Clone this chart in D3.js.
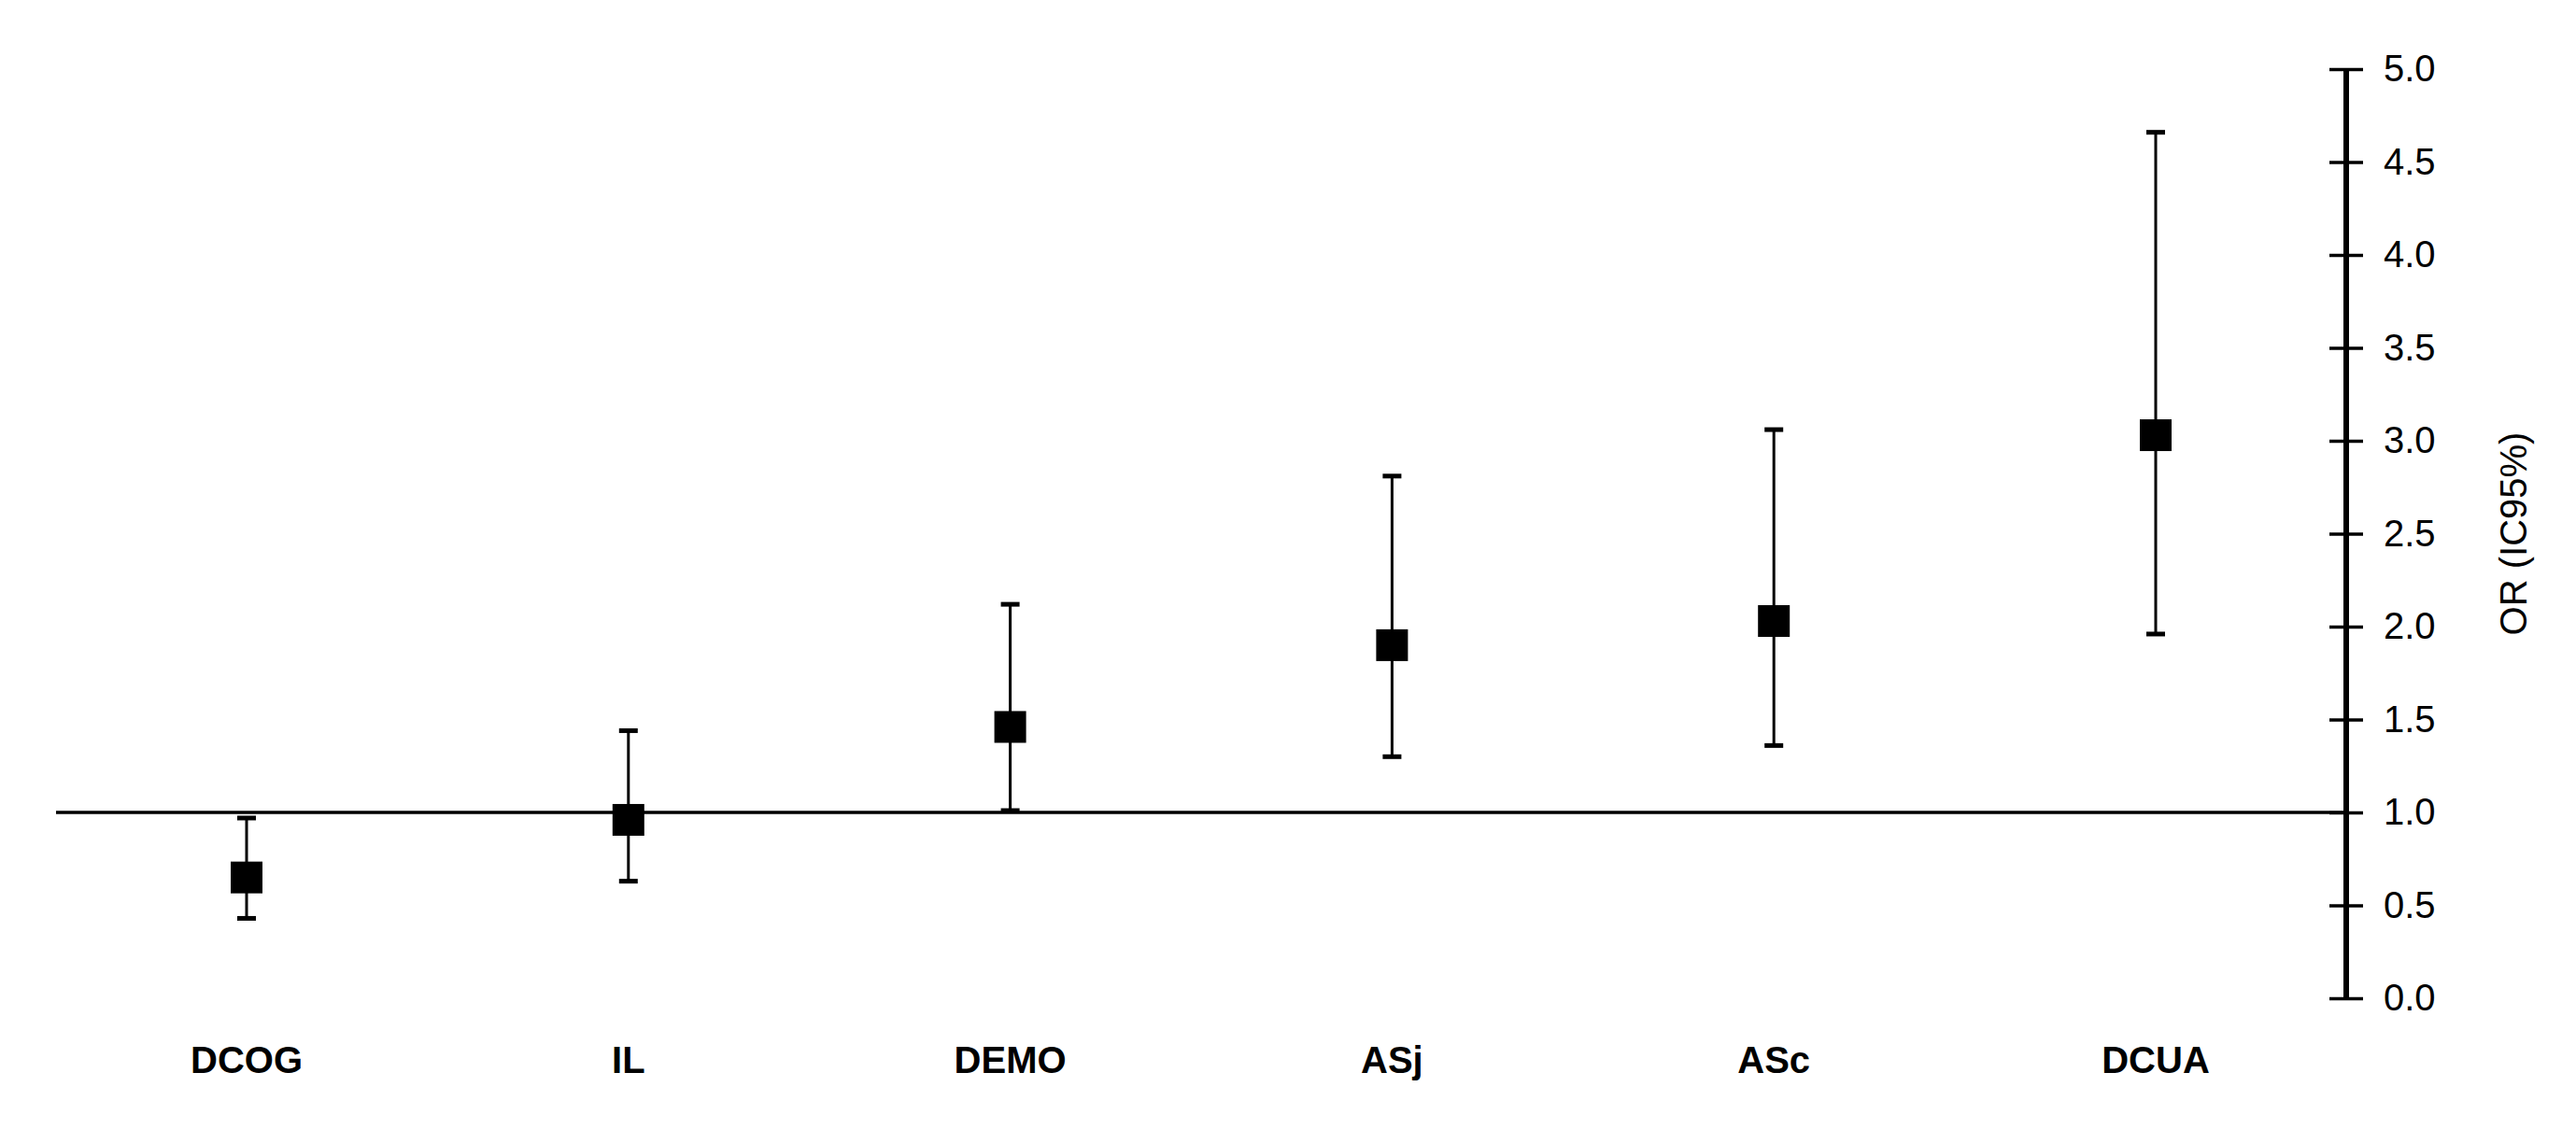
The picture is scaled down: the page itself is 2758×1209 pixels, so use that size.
<!DOCTYPE html>
<html><head><meta charset="utf-8">
<script src="https://cdn.jsdelivr.net/npm/d3@7"></script>
<style>body{margin:0;background:#fff}</style></head>
<body><svg id="c" width="2758" height="1209"></svg>
<script>
const categories=["DCOG","IL","DEMO","ASj","ASc","DCUA"];
const orValues=[0.65,0.96,1.46,1.90,2.03,3.03];
const lowerCI=[0.43,0.63,1.01,1.30,1.36,1.96];
const upperCI=[0.97,1.44,2.12,2.81,3.06,4.66];
const yTicks=[0,0.5,1,1.5,2,2.5,3,3.5,4,4.5,5];

const svg=d3.select("#c");
const axisX=2512;
const x=d3.scalePoint().domain(categories).range([264,2308]);
const y=d3.scaleLinear().domain([0,5]).range([1069,74]);
const data=categories.map((c,i)=>({c,v:orValues[i],lo:lowerCI[i],hi:upperCI[i]}));

svg.append("line").attr("x1",60).attr("x2",axisX).attr("y1",y(1)).attr("y2",y(1)).attr("stroke","#000").attr("stroke-width",3.5);

const ax=svg.append("g").attr("transform",`translate(${axisX},0)`)
 .call(d3.axisRight(y).tickValues(yTicks).tickFormat(d3.format(".1f")).tickSize(18).tickPadding(26));
ax.select(".domain").attr("stroke-width",6).attr("d",`M0,${y(0)}V${y(5)}`);
ax.selectAll(".tick line").attr("x1",-18).attr("x2",18).attr("stroke-width",3.5);
ax.selectAll(".tick text").attr("font-family","Liberation Sans, Arial, sans-serif").attr("font-size",40).attr("fill","#000").attr("x",40);

svg.append("text").attr("transform",`translate(2705,${y(2.5)}) rotate(-90)`).attr("text-anchor","middle")
 .attr("font-family","Liberation Sans, Arial, sans-serif").attr("font-size",40).text("OR (IC95%)");

const g=svg.append("g");
data.forEach(d=>{
 const cx=x(d.c);
 g.append("line").attr("x1",cx).attr("x2",cx).attr("y1",y(d.lo)).attr("y2",y(d.hi)).attr("stroke","#000").attr("stroke-width",3);
 [d.lo,d.hi].forEach(v=>g.append("line").attr("x1",cx-10).attr("x2",cx+10).attr("y1",y(v)).attr("y2",y(v)).attr("stroke","#000").attr("stroke-width",5));
 g.append("rect").attr("x",cx-17).attr("y",y(d.v)-17).attr("width",34).attr("height",34).attr("fill","#000");
 svg.append("text").attr("x",cx).attr("y",1149).attr("text-anchor","middle")
  .attr("font-family","Liberation Sans, Arial, sans-serif").attr("font-weight","bold").attr("font-size",40).text(d.c);
});
</script></body></html>
